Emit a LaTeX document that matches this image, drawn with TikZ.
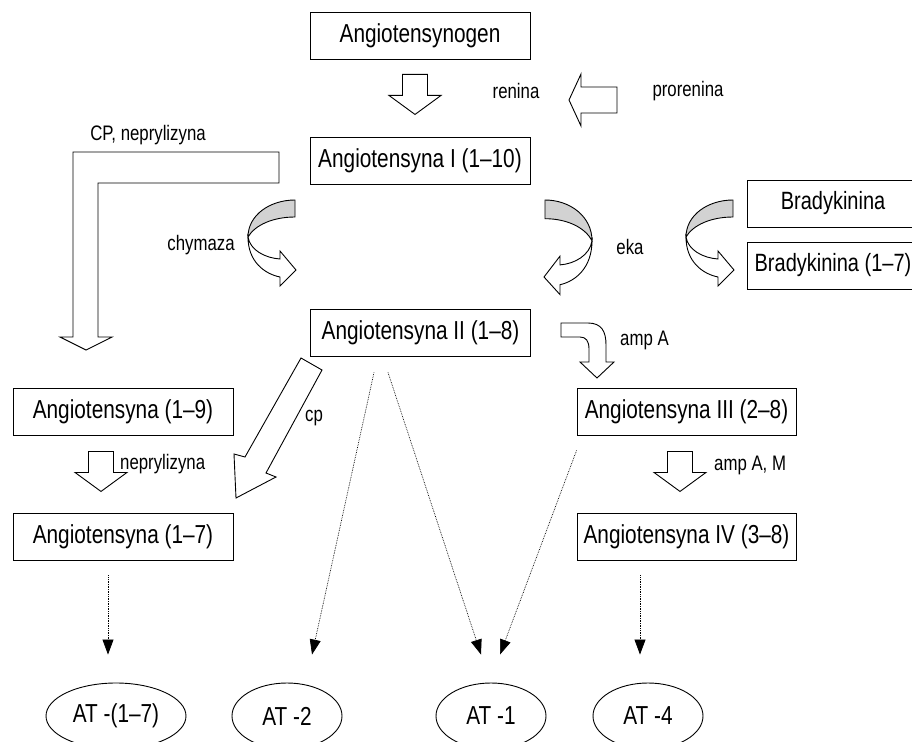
\documentclass[tikz,border=0pt]{standalone}
\usepackage{fontspec}
\setmainfont{Liberation Sans}[FakeStretch=0.8]
\usetikzlibrary{shapes.geometric, arrows.meta}

\tikzset{
  box/.style={draw, line width=0.9pt, minimum width=220pt, minimum height=47pt, inner sep=0pt, font=\fontsize{26}{29}\selectfont},
  receptor/.style={draw, ellipse, line width=0.9pt, minimum width=110pt, minimum height=66pt, inner sep=0pt, font=\fontsize{26}{29}\selectfont},
  enzyme/.style={inner sep=0pt, font=\fontsize{21}{24}\selectfont},
  hollow/.style={draw, fill=white, line width=0.9pt, line join=miter},
  dotarrow/.style={densely dotted, line width=0.7pt, -{Triangle[length=15pt,width=11pt]}},
  pics/hollowdown/.style={code={
    \draw[hollow] (-12.5,0) -- (-12.5,21) -- (-26,21) -- (0,40) -- (26,21) -- (12.5,21) -- (12.5,0) -- cycle;}},
  pics/ribbon/.style={code={
    \draw[hollow, fill=gray!35] (0,0) .. controls (-25,0) and (-47,15) .. (-47,37)
      .. controls (-40,25) and (-22,17) .. (0,17) -- cycle;
    \draw[hollow] (-47,37) .. controls (-45,50) and (-30,58) .. (-15,59) -- (-15,51) -- (1,70)
      -- (-15,86) -- (-15,77) .. controls (-30,74) and (-47,62) .. (-47,37) -- cycle;}}
}

\begin{document}
\begin{tikzpicture}[x=1pt, y=-1pt]
  \useasboundingbox (0,0) rectangle (912,741);

  \node[box] (gen) at (420,35.5) {Angiotensynogen};
  \node[box] (ang1) at (420,160.5) {Angiotensyna I (1–10)};
  \node[box] (ang2) at (420.5,332.5) {Angiotensyna II (1–8)};
  \node[box, minimum width=172pt, font=\fontsize{25}{28}\selectfont] (brady) at (833,203.5) {Bradykinina};
  \node[box, minimum width=172pt, font=\fontsize{25}{28}\selectfont] (brady17) at (833,265.5) {Bradykinina (1–7)};
  \node[box] (ang19) at (123,411.5) {Angiotensyna (1–9)};
  \node[box, minimum width=219pt] (ang3) at (686.5,411.5) {Angiotensyna III (2–8)};
  \node[box] (ang17) at (123,536.5) {Angiotensyna (1–7)};
  \node[box, minimum width=219pt] (ang4) at (686.5,536.5) {Angiotensyna IV (3–8)};

  \node[receptor, minimum width=140pt] (at17) at (116,716) {AT -(1–7)};
  \node[receptor] (at2) at (287,716) {AT -2};
  \node[receptor] (at1) at (491,716) {AT -1};
  \node[receptor] (at4) at (648,716) {AT -4};

  \pic at ([xshift=-5pt,yshift=-15pt]gen.south) {hollowdown};
  \pic at ([xshift=-22pt,yshift=-16pt]ang19.south) {hollowdown};
  \pic at ([xshift=-6.5pt,yshift=-16pt]ang3.south) {hollowdown};

  \draw[hollow] (617,87) -- (581,87) -- (581,74) -- (569,100) -- (581,126) -- (581,113) -- (617,113) -- cycle;
  \draw[hollow] (279,152) -- (73,152) -- (73,337) -- (60,337) -- (86,350) -- (112,337) -- (98,337) -- (98,183) -- (279,183) -- cycle;
  \draw[hollow] (301,358) -- (245,457) -- (234,454) -- (236,498) -- (276,477) -- (266,473) -- (322,370) -- cycle;
  \draw[hollow] (561,323) -- (588,323) .. controls (602,323) and (606,332) .. (606,345) -- (606,362) -- (614,362)
    -- (597,378) -- (580,362) -- (589,362) -- (589,349) .. controls (589,341) and (586,337) .. (580,337) -- (561,337) -- cycle;

  \pic at (295,200) {ribbon};
  \pic[xscale=-1, yscale=1.1] at (545,200) {ribbon};
  \pic at (733,200) {ribbon};

  \node[enzyme] (renina) at (516,91) {renina};
  \node[enzyme] (prorenina) at (688,91) {prorenina};
  \node[enzyme] (cpnep) at (148,135) {CP, neprylizyna};
  \node[enzyme] (chymaza) at (201,245) {chymaza};
  \node[enzyme] (eka) at (630,247) {eka};
  \node[enzyme, anchor=west] (ampA) at (620,340) {amp A};
  \node[enzyme] (cp) at (314,418) {cp};
  \node[enzyme, anchor=west] (nep) at (120,464) {neprylizyna};
  \node[enzyme, anchor=west] (ampAM) at (714,465) {amp A, M};

  \draw[dotarrow] ([xshift=-15pt,yshift=-15pt]ang17.south) -- ([xshift=-8pt,yshift=28pt]at17.north);
  \draw[dotarrow] ([xshift=-46.5pt,yshift=-16pt]ang2.south) -- ([xshift=25pt,yshift=28pt]at2.north);
  \draw[dotarrow] ([xshift=-32.5pt,yshift=-16pt]ang2.south) -- ([xshift=-10pt,yshift=28pt]at1.north);
  \draw[dotarrow] ([yshift=-15pt]ang3.south west) -- ([xshift=9pt,yshift=28pt]at1.north);
  \draw[dotarrow] ([xshift=-46.5pt,yshift=-15pt]ang4.south) -- ([xshift=-8pt,yshift=28pt]at4.north);
\end{tikzpicture}
\end{document}
